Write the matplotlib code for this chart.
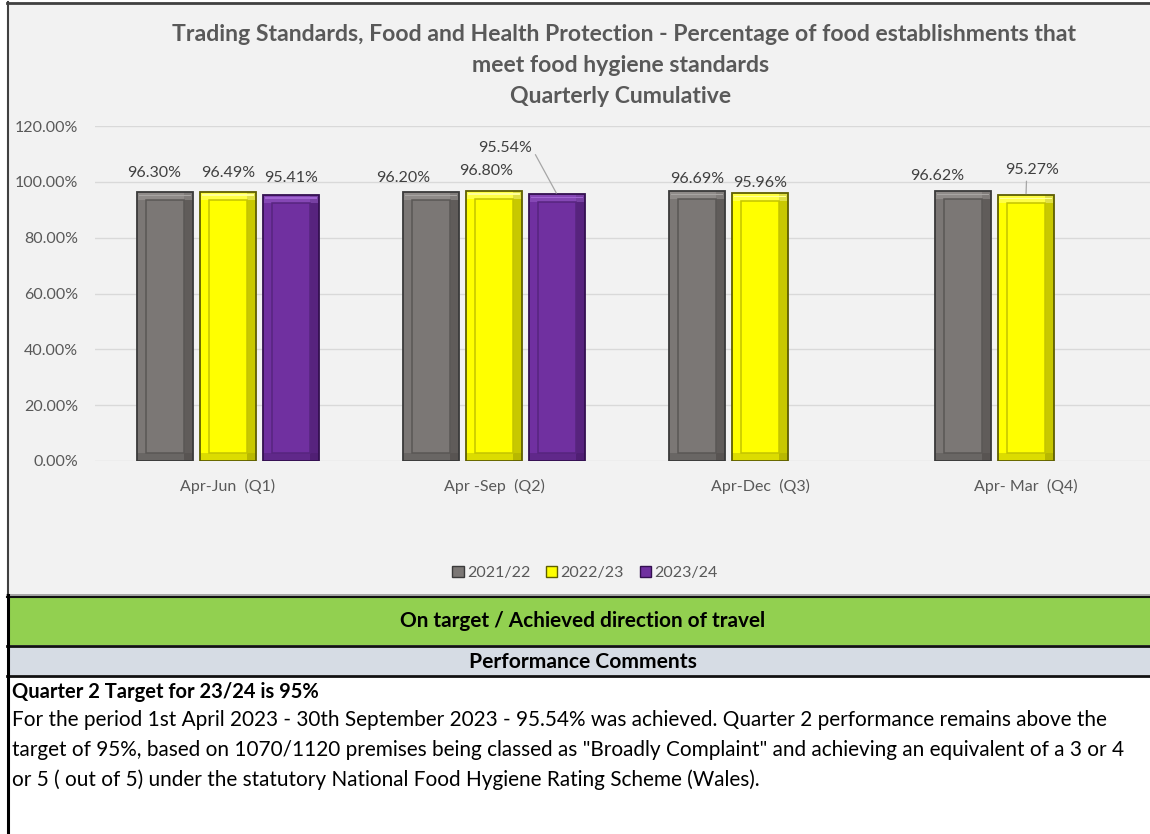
import numpy as np
import matplotlib
matplotlib.use("Agg")
import matplotlib.pyplot as plt
from matplotlib.patches import Rectangle, Patch

plt.rcParams['font.family'] = ['Lato', 'DejaVu Sans']

# ---------------- data ----------------
categories = ["Apr-Jun  (Q1)", "Apr -Sep  (Q2)", "Apr-Dec  (Q3)", "Apr- Mar  (Q4)"]
series_names = ["2021/22", "2022/23", "2023/24"]
vals_2021 = [96.30, 96.20, 96.69, 96.62]
vals_2022 = [96.49, 96.80, 95.96, 95.27]
vals_2023 = [95.41, 95.54, np.nan, np.nan]
y_ticks = [0, 20, 40, 60, 80, 100, 120]

title_lines = ["Trading Standards, Food and Health Protection - Percentage of food establishments that",
               "meet food hygiene standards",
               "Quarterly Cumulative"]
status_text = "On target / Achieved direction of travel"
comments_header = "Performance Comments"
comment_bold = "Quarter 2 Target for 23/24 is 95%"
comment_lines = [
    "For the period 1st April 2023 - 30th September 2023 - 95.54% was achieved. Quarter 2 performance remains above the",
    "target of 95%, based on 1070/1120 premises being classed as \"Broadly Complaint\" and achieving an equivalent of a 3 or 4",
    "or 5 ( out of 5) under the statutory National Food Hygiene Rating Scheme (Wales).",
]

# ---------------- styles ----------------
fills = ["#7b7775", "#ffff00", "#7030a0"]
edges = ["#3a3a3a", "#5e5e00", "#331050"]
shade = ["#4a4745", "#9c9c00", "#431a63"]
inner = ["#5a5755", "#c4c400", "#57257f"]
highlight = ["#a8a5a3", "#ffff99", "#a064d0"]
# label offsets in pixels (dx, dy above bar top)
lab_dx = [[-11, -28, 0, -26], [0, -8, 0, 6], [0, -52, 0, 0]]
lab_dy = [[19, 14, 12, 15], [19, 20, 10, 25], [17, 46, 0, 0]]

W, H = 1150, 834
fig = plt.figure(figsize=(W / 100, H / 100), dpi=100)
fig.patch.set_facecolor("white")

# background / frame axes in pixel coordinates
bg = fig.add_axes([0, 0, 1, 1], zorder=0)
bg.set_xlim(0, W)
bg.set_ylim(H, 0)
bg.axis("off")

bg.add_patch(Rectangle((7, 2), W - 7, 593, facecolor="#f2f2f2", edgecolor="none"))
bg.plot([7, W], [2.5, 2.5], color="#404040", lw=2)
bg.plot([7.5, 7.5], [2, 595], color="#404040", lw=1.5)
bg.add_patch(Rectangle((7, 597), W - 7, 48, facecolor="#92d050", edgecolor="none"))
bg.add_patch(Rectangle((7, 647), W - 7, 28, facecolor="#d6dce4", edgecolor="none"))
for yy, lw in [(595, 1.2), (597, 1.5), (645.5, 2), (675.5, 2)]:
    bg.plot([7, W], [yy, yy], color="#111111" if yy != 595 else "#9a9a9a", lw=lw)
bg.plot([8, 8], [595, H], color="#000000", lw=2.2)

renderer = fig.canvas.get_renderer()


def fit(t, target):
    w = t.get_window_extent(renderer).width
    t.set_fontsize(t.get_fontsize() * target / w)
    return t.get_fontsize()


# title
t1 = bg.text(624, 34, title_lines[0], ha="center", va="center", fontsize=14,
             fontweight="bold", color="#595959")
fs_title = fit(t1, 912)
for txt, yy in zip(title_lines[1:], [65, 96]):
    bg.text(621, yy, txt, ha="center", va="center", fontsize=fs_title,
            fontweight="bold", color="#595959")

# bottom bands
ts = bg.text(583, 621, status_text, ha="center", va="center", fontsize=13,
             fontweight="bold", color="#000000")
fit(ts, 366)
tc = bg.text(583, 662, comments_header, ha="center", va="center", fontsize=13,
             fontweight="bold", color="#000000")
fit(tc, 228)
tb = bg.text(12, 692, comment_bold, ha="left", va="center", fontsize=13,
             fontweight="bold", color="#000000")
fit(tb, 306)
tl = bg.text(12, 720, comment_lines[0], ha="left", va="center", fontsize=13, color="#000000")
fs_c = fit(tl, 1095)
for txt, yy in zip(comment_lines[1:], [750, 780]):
    bg.text(12, yy, txt, ha="left", va="center", fontsize=fs_c, color="#000000")

# ---------------- main chart ----------------
ax = fig.add_axes([95 / W, 1 - 461 / H, (W - 95) / W, (461 - 126) / H], zorder=2)
ax.patch.set_alpha(0)
ax.set_xlim(-0.5, -0.5 + (W - 95) / 266)
ax.set_ylim(0, 120)
for s in ax.spines.values():
    s.set_visible(False)
ax.set_yticks(y_ticks)
ax.set_yticklabels([f"{v:.2f}%" for v in y_ticks])
ax.yaxis.grid(True, color="#d9d9d9", lw=1)
ax.set_axisbelow(True)
x = np.arange(len(categories))
ax.set_xticks(x)
ax.set_xticklabels(categories)
ax.tick_params(axis="both", length=0, labelcolor="#595959", labelsize=11.5)
ax.tick_params(axis="y", pad=12)
ax.tick_params(axis="x", pad=13)

px_per_unit_y = (461 - 126) / 120.0
bw = 56 / 266
step = 63 / 266
inset_x = 9 / 266
inset_y = 8 / px_per_unit_y
all_vals = [vals_2021, vals_2022, vals_2023]
for i, vals in enumerate(all_vals):
    v = np.array(vals, dtype=float)
    m = ~np.isnan(v)
    xs = x[m] + (i - 1) * step
    hv = v[m]
    # base bar
    ax.bar(xs, hv, bw, color=fills[i], lw=0, zorder=3)
    # right shaded bevel band
    ax.bar(xs + bw / 2 - inset_x / 2, hv, inset_x, color=shade[i], alpha=0.55,
           lw=0, zorder=3.1)
    # bottom shaded bevel band
    ax.bar(xs, np.full(hv.shape, inset_y), bw, color=shade[i], alpha=0.35,
           lw=0, zorder=3.1)
    # top highlight bevel band
    ax.bar(xs, np.full(hv.shape, inset_y), bw, bottom=hv - inset_y,
           color=highlight[i], alpha=0.45, lw=0, zorder=3.2)
    ax.bar(xs, np.full(hv.shape, 0.5), bw * 0.92, bottom=hv - 1.4,
           color=highlight[i], lw=0, zorder=3.3)
    # inner rectangle
    ax.bar(xs, hv - 2 * inset_y, bw - 2 * inset_x, bottom=inset_y, fill=False,
           edgecolor=inner[i], lw=1.1, zorder=3.4)
    # outline
    ax.bar(xs, hv, bw, fill=False, edgecolor=edges[i], lw=1.3, zorder=3.5)
    for j, (xx, vv) in zip(np.where(m)[0], zip(xs, hv)):
        dx, dy = lab_dx[i][j], lab_dy[i][j]
        lead = dy > 22
        kw = {}
        if lead:
            kw["arrowprops"] = dict(arrowstyle="-", color="#a6a6a6", lw=0.9,
                                    shrinkA=1, shrinkB=1,
                                    relpos=(1.0, 0.5) if i == 2 else (0.4, 0.0))
        ax.annotate(f"{vv:.2f}%", xy=(xx, vv), xytext=(dx, dy),
                    textcoords="offset pixels", ha="center", va="center",
                    fontsize=11.5, color="#404040", zorder=5, **kw)

handles = [Patch(facecolor=fills[i], edgecolor=edges[i], lw=1) for i in range(3)]
fig.legend(handles, series_names, loc="center", bbox_to_anchor=(585 / W, 1 - 573 / H),
           ncol=3, frameon=False, fontsize=11.5, handlelength=0.7, handleheight=0.7,
           handletextpad=0.2, columnspacing=1.0, labelcolor="#595959")

fig.savefig("out.png", dpi=100, facecolor=fig.get_facecolor())
